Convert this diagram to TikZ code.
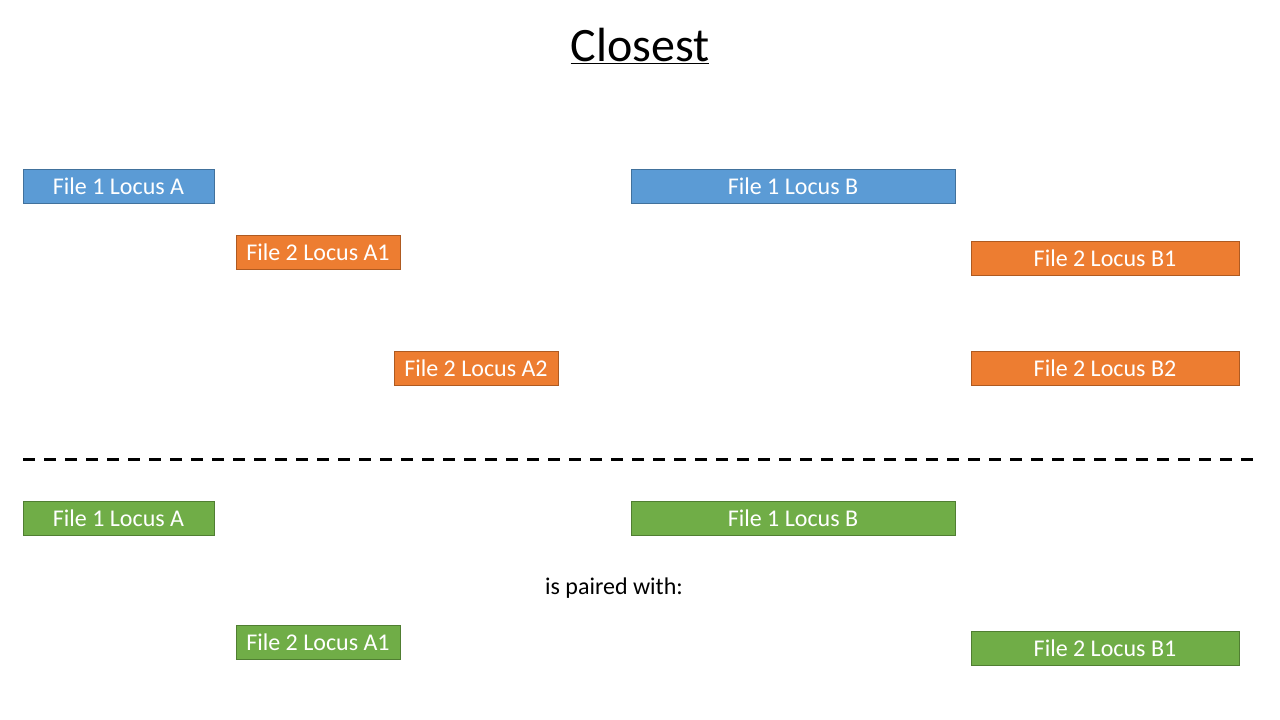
\documentclass[tikz,border=0pt]{standalone}
\usepackage{fontspec}
\setmainfont{Carlito}
\begin{document}
\begin{tikzpicture}[x=1pt,y=-1pt,
  box/.style={draw, line width=1pt, minimum height=34pt, inner sep=0pt, text=white, font=\fontsize{24}{28}\selectfont},
  bluebox/.style={box, fill={rgb,255:red,91;green,155;blue,213}, draw={rgb,255:red,65;green,113;blue,156}},
  orangebox/.style={box, fill={rgb,255:red,237;green,125;blue,49}, draw={rgb,255:red,174;green,90;blue,33}},
  greenbox/.style={box, fill={rgb,255:red,112;green,173;blue,71}, draw={rgb,255:red,80;green,126;blue,50}},
  lbl/.style={font=\fontsize{24}{28}\selectfont, inner sep=0pt}]
\useasboundingbox (0,0) rectangle (1280,720);
\node[font=\fontsize{48}{56}\selectfont, inner sep=0pt] (title) at (640,46) {\underline{Closest}};
% upper section
\node[bluebox, minimum width=191pt] (ua) at (118.5,186) {File 1 Locus A};
\node[orangebox, minimum width=164pt] (ua1) at (318,252) {File 2 Locus A1};
\node[orangebox, minimum width=164pt] (ua2) at (476,368) {File 2 Locus A2};
\node[bluebox, minimum width=324pt] (ub) at (793,186) {File 1 Locus B};
\node[orangebox, minimum width=268pt] (ub1) at (1105,258) {File 2 Locus B1};
\node[orangebox, minimum width=268pt] (ub2) at (1105,368) {File 2 Locus B2};
% divider
\coordinate (dl) at (23,459);
\coordinate (dr) at (1256,459);
\draw[line width=3pt, dash pattern=on 12pt off 9pt] (dl) -- (dr);
% lower section
\node[greenbox, minimum width=191pt] (la) at (118.5,518.5) {File 1 Locus A};
\node[greenbox, minimum width=324pt] (lb) at (793,518.5) {File 1 Locus B};
\node[lbl] (pw) at (614,588.5) {is paired with:};
\node[greenbox, minimum width=164pt] (la1) at (318,642) {File 2 Locus A1};
\node[greenbox, minimum width=268pt] (lb1) at (1105,648) {File 2 Locus B1};
\end{tikzpicture}
\end{document}
